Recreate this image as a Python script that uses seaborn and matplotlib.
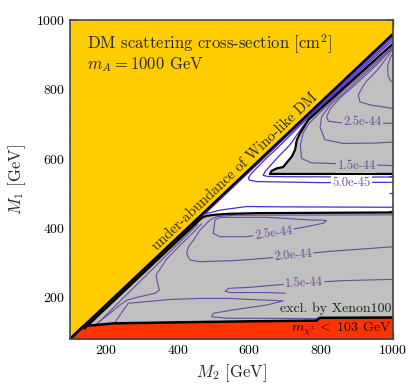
import numpy as np
import pandas as pd
import matplotlib.pyplot as plt
import seaborn as sns

# region boundaries, (M2, M1) in GeV
diag_m2 = [100, 1000]
diag_m1 = [80, 960]

lep_m2 = [100, 137, 220, 400, 600, 787, 795, 1000]
lep_m1 = [80, 117, 125, 128, 131, 133, 141, 142]

low_edge_m2 = [140, 468, 480, 500, 540, 620, 1000]
low_edge_m1 = [110, 430, 435, 438, 441, 443, 445]

up_edge_m2 = [1000, 657, 662, 676, 694, 705, 718, 727, 732, 741, 764, 1000]
up_edge_m1 = [556, 556, 565, 572, 576, 590, 606, 625, 654, 673, 712, 932]

# contours in the white band / strip along the diagonal
strip_m2 = [135, 476]
strip_m1 = [112, 441]
u3_m2 = [1000, 700, 592, 520, 476, 1000]
u3_m1 = [460, 461, 462, 452, 441, 954]
u2_m2 = [1000, 800, 620, 600, 597, 606, 640, 685, 764, 1000]
u2_m1 = [532, 531, 534, 538, 545, 558, 594, 638, 719, 948]
u1_m2 = [1000, 700, 650, 638, 645, 680, 713, 752, 770, 1000]
u1_m1 = [547, 548, 549, 552, 565, 605, 640, 698, 721, 942]

# contours in the upper grey region
c15_up_m2 = [1000, 806, 773, 745, 742, 750, 765, 790, 860, 950, 975, 1000]
c15_up_m1 = [580, 587, 588, 601, 640, 675, 700, 727, 795, 878, 900, 926]
c20_up_m2 = [1000, 950, 861, 810, 797, 801, 825, 880, 960, 1000]
c20_up_m1 = [648, 645, 644, 655, 690, 721, 755, 806, 882, 925]
c25_up_m2 = [1000, 850, 820, 815, 826, 852, 900, 960, 1000]
c25_up_m1 = [702, 704, 708, 721, 745, 775, 818, 876, 921]
cb_up_m2 = [1000, 936, 908, 903, 913, 925, 960, 985, 1000]
cb_up_m1 = [745, 755, 764, 784, 803, 822, 860, 895, 918]
ca_up_m2 = [1000, 993, 986, 985, 992, 1000]
ca_up_m1 = [820, 825, 840, 868, 890, 905]

# contours in the lower grey region
c25_lo_m2 = [499, 518, 592, 666, 759, 806, 815, 800, 778, 648, 518, 504, 499]
c25_lo_m1 = [385, 375, 375, 387, 404, 414, 421, 423, 423, 431, 431, 423, 385]
c20_lo_m2 = [1000, 815, 722, 648, 555, 462, 434, 425, 430, 444, 462, 490, 509, 560, 1000]
c20_lo_m1 = [346, 332, 322, 313, 306, 303, 308, 327, 346, 365, 394, 423, 433, 437, 438]
c15_lo_m2 = [1000, 852, 750, 676, 601, 541, 532, 546, 648, 700]
c15_lo_m1 = [252, 248, 241, 236, 229, 226, 218, 214, 214, 212]
spike_m2 = [225, 230, 249, 262, 379, 462, 546, 601, 694, 648, 555, 499, 495, 537, 787]
spike_m1 = [125, 135, 164, 183, 194, 197, 197, 194, 190, 178, 164, 154, 144, 140, 139]
wedge_m2 = [170, 211, 239, 258, 286, 337, 349, 343, 340, 369, 406, 444, 466]
wedge_m1 = [120, 154, 178, 192, 200, 212, 221, 245, 265, 310, 350, 388, 412]
inner_m2 = [170, 455]
inner_m1 = [118, 410]

YELLOW = "#FFCC00"
RED = "#FF3300"
GREY = "#C0C0C0"
PURPLE = "#6B4C9A"
BLUE = "#4B2BC8"


def line(ax, xs, ys, color, lw, z=3):
    sns.lineplot(x=xs, y=ys, sort=False, estimator=None, color=color,
                 lw=lw, ax=ax, legend=False, zorder=z)


def clabel(ax, x, y, s, rot=0, bg=GREY):
    ax.text(x, y, s, color=PURPLE, fontsize=9, rotation=rot, ha="center",
            va="center", zorder=6,
            bbox=dict(boxstyle="square,pad=0.1", fc=bg, ec="none"))


sns.set_theme(style="ticks")
plt.rcParams["font.family"] = ["cmr10", "DejaVu Serif"]
plt.rcParams["mathtext.fontset"] = "cm"
plt.rcParams["axes.formatter.use_mathtext"] = True

fig = plt.figure(figsize=(4.15, 3.9), dpi=100)
ax = fig.add_axes([70 / 415, 51 / 390, 323 / 415, 319 / 390])
ax.set_facecolor("white")

# filled regions
ax.fill_between(low_edge_m2, 80, low_edge_m1, color=GREY, lw=0, zorder=1)
ax.fill(up_edge_m2, up_edge_m1, color=GREY, lw=0, zorder=1)
ax.fill_between(lep_m2, 80, lep_m1, color=RED, lw=0, zorder=2)
ax.fill_between(diag_m2, diag_m1, 1000, color=YELLOW, lw=0, zorder=2)

# contour lines
for xs, ys in [(strip_m2, strip_m1), (u3_m2, u3_m1), (u2_m2, u2_m1), (u1_m2, u1_m1)]:
    line(ax, xs, ys, BLUE, 0.9)
for xs, ys in [(c15_up_m2, c15_up_m1), (c20_up_m2, c20_up_m1), (c25_up_m2, c25_up_m1),
               (cb_up_m2, cb_up_m1), (ca_up_m2, ca_up_m1), (c25_lo_m2, c25_lo_m1),
               (c20_lo_m2, c20_lo_m1), (c15_lo_m2, c15_lo_m1), (spike_m2, spike_m1),
               (wedge_m2, wedge_m1), (inner_m2, inner_m1)]:
    line(ax, xs, ys, PURPLE, 0.8)

# black boundaries
line(ax, diag_m2, diag_m1, "black", 1.8, z=5)
line(ax, lep_m2, lep_m1, "black", 1.8, z=5)
line(ax, low_edge_m2, low_edge_m1, "black", 1.6, z=5)
line(ax, up_edge_m2, up_edge_m1, "black", 1.6, z=5)

# contour labels
clabel(ax, 916, 707, "2.5e-44")
clabel(ax, 899, 580, "1.5e-44")
clabel(ax, 885, 531, "5.0e-45", bg="white")
clabel(ax, 667, 386, "2.5e-44", rot=8)
clabel(ax, 722, 322, "2.0e-44", rot=5)
clabel(ax, 752, 242, "1.5e-44", rot=3)

ax.text(995, 166, "excl. by Xenon100", fontsize=10, color="#222222",
        ha="right", va="center", zorder=6)
ax.text(995, 108, r"$m_{\chi^{\pm}} <$ 103 GeV", fontsize=10, color="#220000",
        ha="right", va="center", zorder=6)
ax.text(560, 562, "under-abundance of Wino-like DM", fontsize=10.5,
        rotation=43.5, rotation_mode="anchor", ha="center", va="center", zorder=6)
ax.text(146, 915, r"DM scattering cross-section [cm$^2$]", fontsize=12,
        va="baseline", zorder=6)
ax.text(146, 858, r"$m_A = 1000$ GeV", fontsize=12, va="baseline", zorder=6)

ax.set_xlim(100, 1000)
ax.set_ylim(80, 1000)
ax.set_xticks([200, 400, 600, 800, 1000])
ax.set_yticks([200, 400, 600, 800, 1000])
ax.set_xticks(np.arange(150, 1000, 50), minor=True)
ax.set_yticks(np.arange(100, 1000, 50), minor=True)
ax.tick_params(which="both", direction="in", top=True, right=True, colors="#333333",
               labelcolor="black", labelsize=10)
ax.tick_params(which="major", length=5, width=1)
ax.tick_params(which="minor", length=3, width=0.8)
for s in ax.spines.values():
    s.set_color("#444444")
    s.set_linewidth(1.2)
    s.set_zorder(7)
ax.set_xlabel(r"$M_2$ [GeV]", fontsize=12, labelpad=4)
ax.set_ylabel(r"$M_1$ [GeV]", fontsize=12, labelpad=6)

fig.savefig("out.png", dpi=100)
